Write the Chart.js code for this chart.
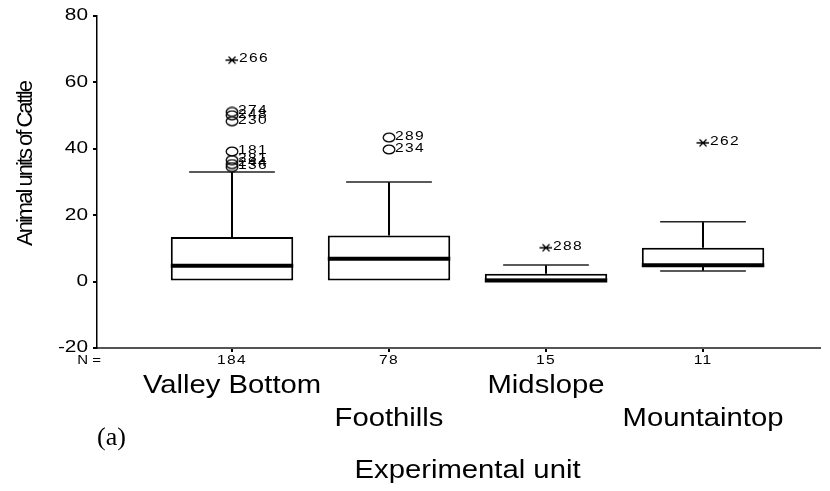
<!DOCTYPE html>
<html>
<head>
<meta charset="utf-8">
<script src="https://cdn.jsdelivr.net/npm/chart.js@4"></script>
<style>
  html, body { margin: 0; padding: 0; background: #fff; }
  canvas { display: block; }
</style>
</head>
<body>
<canvas id="c" width="830" height="491"></canvas>
<script>
// Grazing intensity by experimental unit
const groups = ['Valley Bottom', 'Foothills', 'Midslope', 'Mountaintop'];
const nCounts = [184, 78, 15, 11];
const q1 = [0, 0, 0, 4.4];
const medians = [4.8, 6.9, 0, 4.9];
const q3 = [13.4, 13.9, 2.4, 10.2];
const whiskerLow = [0, 0, 0, 3.2];
const whiskerHigh = [33, 30, 5, 18];
// outliers (circles) and extremes (asterisks) with their case numbers
const outlierValues = [[51.1, 50.1, 48.3, 39.2, 36.6, 35.4, 34.5], [43.4, 39.8], [], []];
const outlierIds = [['274', '248', '230', '181', '281', '244', '136'], ['289', '234'], [], []];
const extremeValues = [[66.7], [], [10.2], [41.8]];
const extremeIds = [['266'], [], ['288'], ['262']];
const yTicks = [-20, 0, 20, 40, 60, 80];

// marker images
function makeCircleMarker() {
  const c = document.createElement('canvas');
  c.width = 14; c.height = 11;
  const g = c.getContext('2d');
  g.strokeStyle = '#000'; g.lineWidth = 1.3;
  g.beginPath(); g.ellipse(7, 5.5, 5.8, 4.4, 0, 0, Math.PI * 2); g.stroke();
  return c;
}
function makeStarMarker() {
  const c = document.createElement('canvas');
  c.width = 14; c.height = 10;
  const g = c.getContext('2d');
  g.strokeStyle = '#000'; g.lineWidth = 1.3;
  g.beginPath();
  g.moveTo(3.5, 1.5); g.lineTo(10.5, 8.5);
  g.moveTo(3.5, 8.5); g.lineTo(10.5, 1.5);
  g.moveTo(0.5, 5); g.lineTo(13, 5);
  g.stroke();
  return c;
}
const circleMarker = makeCircleMarker();
const starMarker = makeStarMarker();

const outlierPoints = [];
outlierValues.forEach((vals, i) => vals.forEach(v => outlierPoints.push({ x: i + 1, y: v })));
const extremePoints = [];
extremeValues.forEach((vals, i) => vals.forEach(v => extremePoints.push({ x: i + 1, y: v })));

function drawText(ctx, text, x, y, o) {
  ctx.save();
  ctx.font = o.font;
  ctx.fillStyle = '#000';
  if ('letterSpacing' in ctx) ctx.letterSpacing = (o.spacing || 0) + 'px';
  ctx.translate(x, y);
  if (o.rotate) ctx.rotate(o.rotate);
  ctx.scale(o.sx || 1, 1);
  ctx.textAlign = o.align || 'left';
  ctx.textBaseline = 'middle';
  ctx.fillText(text, 0, 0);
  ctx.restore();
}

const boxPlotPlugin = {
  id: 'boxParts',
  beforeDatasetsDraw(chart) {
    const ctx = chart.ctx, xs = chart.scales.x, ys = chart.scales.y;
    const bars = chart.getDatasetMeta(0).data;
    ctx.save();
    groups.forEach((g, i) => {
      const cx = Math.round(xs.getPixelForValue(i + 1));
      const capHalf = bars[i].width * 0.35;
      const parts = [];
      if (whiskerHigh[i] > q3[i]) parts.push([whiskerHigh[i], q3[i]]);
      if (whiskerLow[i] < q1[i]) parts.push([whiskerLow[i], q1[i]]);
      parts.forEach(([end, edge]) => {
        const yEnd = ys.getPixelForValue(end);
        const yEdge = ys.getPixelForValue(edge);
        ctx.strokeStyle = '#000';
        ctx.lineWidth = 2;
        ctx.beginPath();
        ctx.moveTo(cx, yEnd); ctx.lineTo(cx, yEdge);
        ctx.stroke();
        ctx.lineWidth = 1.5;
        ctx.strokeStyle = '#222';
        ctx.beginPath();
        ctx.moveTo(cx - capHalf, yEnd); ctx.lineTo(cx + capHalf, yEnd);
        ctx.stroke();
      });
    });
    ctx.restore();
  },
  afterDatasetsDraw(chart) {
    const ctx = chart.ctx, xs = chart.scales.x, ys = chart.scales.y;
    const bars = chart.getDatasetMeta(0).data;
    ctx.save();
    ctx.strokeStyle = '#000';
    ctx.lineWidth = 4;
    groups.forEach((g, i) => {
      const cx = xs.getPixelForValue(i + 1);
      const half = bars[i].width / 2;
      let ym = ys.getPixelForValue(medians[i]);
      ym = Math.min(ym, ys.getPixelForValue(q1[i]) - 1);
      ctx.beginPath();
      ctx.moveTo(cx - half, ym); ctx.lineTo(cx + half, ym);
      ctx.stroke();
    });
    ctx.restore();
  },
  afterDraw(chart) {
    const ctx = chart.ctx, xs = chart.scales.x, ys = chart.scales.y;
    const area = chart.chartArea;
    const small = { font: '12px Arial, "Liberation Sans", sans-serif', sx: 1.3, spacing: 1 };

    // case labels next to outliers and extremes
    groups.forEach((g, i) => {
      const cx = xs.getPixelForValue(i + 1);
      outlierValues[i].forEach((v, k) => drawText(ctx, outlierIds[i][k], cx + 6, ys.getPixelForValue(v) - 1, small));
      extremeValues[i].forEach((v, k) => drawText(ctx, extremeIds[i][k], cx + 7, ys.getPixelForValue(v) - 1, small));
    });

    // y tick labels
    yTicks.forEach(t => drawText(ctx, String(t), area.left - 9, ys.getPixelForValue(t),
      { font: '16px Arial, "Liberation Sans", sans-serif', sx: 1.3, align: 'right' }));

    // y axis title
    drawText(ctx, 'Animal units of Cattle', 26, 164,
      { font: '22px Arial, "Liberation Sans", sans-serif', rotate: -Math.PI / 2, align: 'center', spacing: -2 });

    // group sizes
    const nY = area.bottom + 13;
    drawText(ctx, 'N =', area.left + 4, nY, { font: '12px Arial, "Liberation Sans", sans-serif', sx: 1.25, align: 'right' });
    nCounts.forEach((n, i) => drawText(ctx, String(n), xs.getPixelForValue(i + 1), nY, Object.assign({ align: 'center' }, small)));

    // category names on two staggered rows
    const catFont = { font: '25px Arial, "Liberation Sans", sans-serif', sx: 1.17, align: 'center' };
    groups.forEach((g, i) => {
      const rowY = area.bottom + (i % 2 === 0 ? 38 : 71);
      drawText(ctx, g, xs.getPixelForValue(i + 1), rowY, catFont);
    });

    drawText(ctx, '(a)', area.left, area.bottom + 90, { font: '26px "Liberation Serif", "Times New Roman", serif' });
    drawText(ctx, 'Experimental unit', (xs.getPixelForValue(2) + xs.getPixelForValue(3)) / 2, area.bottom + 123, catFont);
  }
};

new Chart(document.getElementById('c'), {
  type: 'bar',
  data: {
    datasets: [
      {
        type: 'bar',
        data: groups.map((g, i) => ({ x: i + 1, y: [q1[i], q3[i]] })),
        backgroundColor: '#fff',
        borderColor: '#000',
        borderWidth: 2,
        borderSkipped: false,
        barPercentage: 0.78,
        categoryPercentage: 1,
        order: 2
      },
      {
        type: 'scatter',
        data: outlierPoints,
        pointStyle: circleMarker,
        order: 1
      },
      {
        type: 'scatter',
        data: extremePoints,
        pointStyle: starMarker,
        order: 1
      }
    ]
  },
  options: {
    responsive: false,
    animation: false,
    devicePixelRatio: 1,
    layout: { padding: { left: 0, right: 10, top: 16, bottom: 0 } },
    plugins: { legend: { display: false }, tooltip: { enabled: false } },
    scales: {
      x: {
        type: 'linear',
        offset: false,
        min: 0.14,
        max: 4.745,
        afterBuildTicks: s => { s.ticks = nCounts.map((n, i) => ({ value: i + 1 })); },
        afterFit: s => { s.height = 143; },
        ticks: { display: false },
        grid: { offset: false, drawOnChartArea: false, drawTicks: true, tickLength: 4, lineWidth: 2, color: '#000' },
        border: { display: true, color: '#555', width: 2 }
      },
      y: {
        type: 'linear',
        min: -20,
        max: 80,
        afterBuildTicks: s => { s.ticks = yTicks.map(v => ({ value: v })); },
        afterFit: s => { s.width = 97; },
        ticks: { display: false },
        grid: { drawOnChartArea: false, drawTicks: true, tickLength: 4, lineWidth: 2, color: '#000' },
        border: { display: true, color: '#000', width: 1.5 }
      }
    }
  },
  plugins: [boxPlotPlugin]
});
</script>
</body>
</html>
